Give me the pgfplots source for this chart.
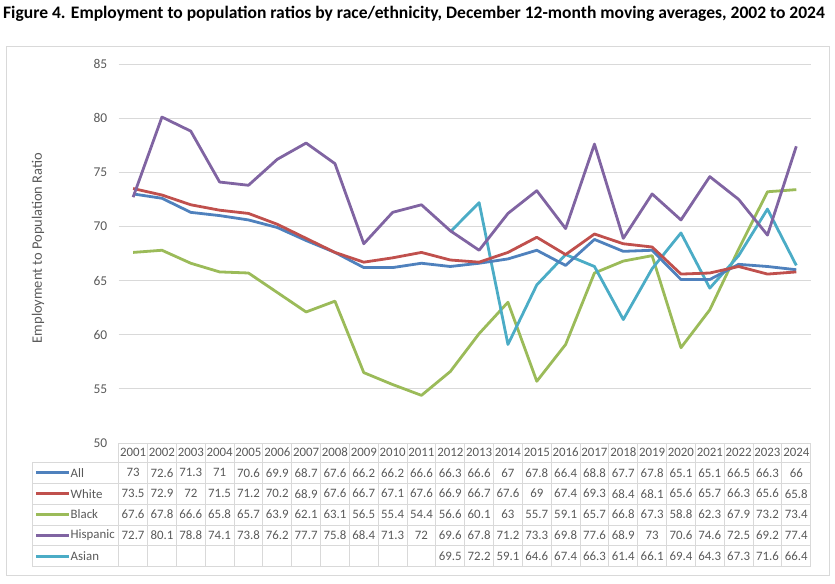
\documentclass[border=0pt]{standalone}
\usepackage{fontspec}
\setmainfont{Carlito}
\usepackage{pgfplots}
\usepackage{pgfplotstable}
\pgfplotsset{compat=1.18}

\definecolor{allc}{HTML}{4F81BD}
\definecolor{whitec}{HTML}{C0504D}
\definecolor{blackc}{HTML}{9BBB59}
\definecolor{hispc}{HTML}{8064A2}
\definecolor{asianc}{HTML}{4BACC6}
\definecolor{txt}{HTML}{595959}
\definecolor{gridc}{HTML}{D9D9D9}

\pgfplotstableread{
year All White Black Hispanic
2001 73 73.5 67.6 72.7
2002 72.6 72.9 67.8 80.1
2003 71.3 72 66.6 78.8
2004 71 71.5 65.8 74.1
2005 70.6 71.2 65.7 73.8
2006 69.9 70.2 63.9 76.2
2007 68.7 68.9 62.1 77.7
2008 67.6 67.6 63.1 75.8
2009 66.2 66.7 56.5 68.4
2010 66.2 67.1 55.4 71.3
2011 66.6 67.6 54.4 72
2012 66.3 66.9 56.6 69.6
2013 66.6 66.7 60.1 67.8
2014 67 67.6 63 71.2
2015 67.8 69 55.7 73.3
2016 66.4 67.4 59.1 69.8
2017 68.8 69.3 65.7 77.6
2018 67.7 68.4 66.8 68.9
2019 67.8 68.1 67.3 73
2020 65.1 65.6 58.8 70.6
2021 65.1 65.7 62.3 74.6
2022 66.5 66.3 67.9 72.5
2023 66.3 65.6 73.2 69.2
2024 66 65.8 73.4 77.4
}\data

\pgfplotstableread{
year Asian
2012 69.5
2013 72.2
2014 59.1
2015 64.6
2016 67.4
2017 66.3
2018 61.4
2019 66.1
2020 69.4
2021 64.3
2022 67.3
2023 71.6
2024 66.4
}\asian

% pixel row centre -> data y (plot bottom at 443px, 379px for 35 units)
\newcommand{\rowy}[1]{50-(#1-443)*35/379}

\begin{document}
\begin{tikzpicture}
\begin{scope}[x=1bp,y=1bp]
\useasboundingbox (0,0) rectangle (835,-584);
\node[anchor=base west, inner sep=0pt, font=\fontsize{17.6}{20}\selectfont\bfseries] at (3,-19)
  {Figure 4. Employment to population ratios by race/ethnicity, December 12-month moving averages, 2002 to 2024};
\draw[gridc, line width=1bp] (6,-46.5) rectangle (829.3,-575);

% table grid
\foreach \yy in {462.3,483.3,504,525,545.7,566.7}
  \draw[gridc, line width=0.8bp] (32.3,-\yy) -- (810.7,-\yy);
\draw[gridc, line width=0.8bp] (32.3,-462.3) -- (32.3,-566.7);
\foreach \k in {0,...,24}
  \draw[gridc, line width=0.8bp] ({118.7+\k*28.833},-443) -- ({118.7+\k*28.833},-566.7);

% legend keys in the table
\foreach \yy/\c/\n in {472.8/allc/All,493.7/whitec/White,514.5/blackc/Black,535.4/hispc/Hispanic,556.2/asianc/Asian}{
  \draw[\c, line width=2.8bp] (36,-\yy) -- (69,-\yy);
  \node[anchor=west, inner sep=0pt, text=txt, font=\fontsize{12.9}{15}\selectfont] at (70.5,-\yy) {\n};
}

\node[rotate=90, text=txt, font=\fontsize{14.5}{17}\selectfont] at (38,-248) {Employment to Population Ratio};
\end{scope}

\begin{axis}[
  at={(118.7bp,-443bp)}, anchor=south west,
  scale only axis, width=692bp, height=379bp,
  xmin=2000.5, xmax=2024.5, ymin=50, ymax=85,
  ytick={50,55,...,85}, xtick=\empty,
  ymajorgrids, grid style={gridc, line width=0.8bp},
  axis line style={draw=none}, major tick length=0pt,
  /pgf/number format/assume math mode=true,
  yticklabel style={text=txt, font=\fontsize{13.5}{15}\selectfont, xshift=-8bp},
  clip=false,
  every axis plot/.append style={line width=2.8bp, line join=round, mark=none},
]
\addplot[blackc] table[x=year, y=Black] {\data};
\addplot[asianc] table[x=year, y=Asian] {\asian};
\addplot[allc] table[x=year, y=All] {\data};
\addplot[whitec] table[x=year, y=White] {\data};
\addplot[hispc] table[x=year, y=Hispanic] {\data};

% data table text
\pgfplotsset{cells/.style={draw=none, mark=none, point meta=explicit symbolic,
  nodes near coords, nodes near coords align={center},
  every node near coord/.append style={text=txt, font=\fontsize{12.9}{15}\selectfont, inner sep=0pt, anchor=center}}}
\addplot[cells] table[x=year, y expr={\rowy{452.6}}, meta=year] {\data};
\addplot[cells] table[x=year, y expr={\rowy{472.8}}, meta=All] {\data};
\addplot[cells] table[x=year, y expr={\rowy{493.7}}, meta=White] {\data};
\addplot[cells] table[x=year, y expr={\rowy{514.5}}, meta=Black] {\data};
\addplot[cells] table[x=year, y expr={\rowy{535.4}}, meta=Hispanic] {\data};
\addplot[cells] table[x=year, y expr={\rowy{556.2}}, meta=Asian] {\asian};
\end{axis}
\end{tikzpicture}
\end{document}
